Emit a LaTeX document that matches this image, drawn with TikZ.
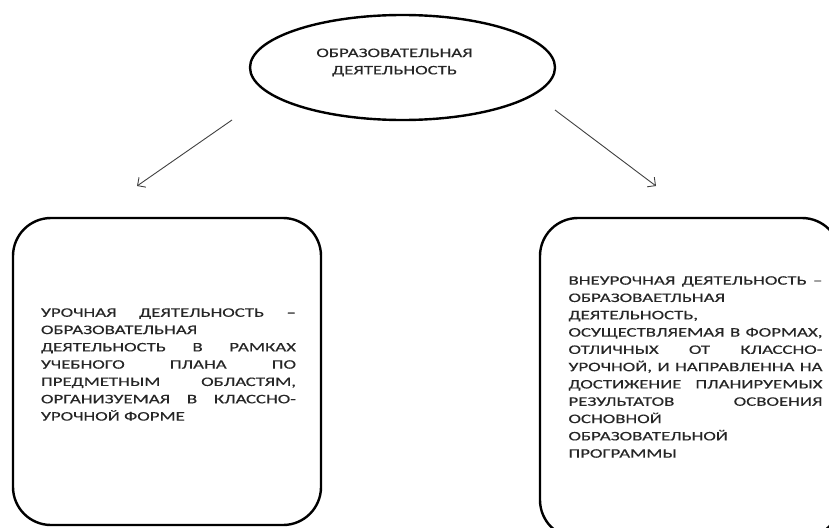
\documentclass[tikz,border=0pt]{standalone}
\usepackage{fontspec}
\setmainfont{Carlito}[FakeStretch=1.45, FakeBold=0.3]
\usetikzlibrary{arrows.meta, positioning, shapes.geometric, calc}

% justified line of a box text
\newcommand{\jline}[1]{\hbox to \hsize{\spaceskip=\fontdimen2\font plus 1fil minus \fontdimen4\font\relax #1}}

\begin{document}
\begin{tikzpicture}[x=1pt, y=-1pt,
    txt/.style={font=\fontsize{13}{17.3}\selectfont, text=black!85, inner sep=0pt},
    frame/.style={draw, line width=2.4pt, rounded corners=38pt, minimum width=308pt, minimum height=307pt, inner sep=0pt},
    link/.style={-{Straight Barb[length=6pt,width=12pt]}, draw=black!75, line width=0.9pt}]
    \useasboundingbox (0,0) rectangle (829,527);
    \clip (0,0) rectangle (829,527);

    % Top ellipse
    \node[ellipse, draw, line width=2.4pt, minimum width=305pt, minimum height=105pt] (top) at (402.5,67.5) {};
    \node[txt, align=center] (toptext) at ($(top.center)+(-8,-5)$) {ОБРАЗОВАТЕЛЬНАЯ\\ДЕЯТЕЛЬНОСТЬ};

    % Two rounded boxes
    \node[frame] (lbox) at (167,371.5) {};
    \node[frame, minimum width=300pt, minimum height=320pt] (rbox) at (690,378) {};

    % Box texts
    \node[txt, text width=255pt, align=left] (ltext) at (168.5,364.5) {%
        \jline{УРОЧНАЯ ДЕЯТЕЛЬНОСТЬ –}
        ОБРАЗОВАТЕЛЬНАЯ\\
        \jline{ДЕЯТЕЛЬНОСТЬ В РАМКАХ}
        \jline{УЧЕБНОГО ПЛАНА ПО}
        \jline{ПРЕДМЕТНЫМ ОБЛАСТЯМ,}
        \jline{ОРГАНИЗУЕМАЯ В КЛАССНО-}
        УРОЧНОЙ ФОРМЕ};
    \node[txt, text width=254pt, align=left] (rtext) at (695.5,367) {%
        \jline{ВНЕУРОЧНАЯ ДЕЯТЕЛЬНОСТЬ –}
        ОБРАЗОВАЕТЛЬНАЯ\\
        ДЕЯТЕЛЬНОСТЬ,\\
        \jline{ОСУЩЕСТВЛЯЕМАЯ В ФОРМАХ,}
        \jline{ОТЛИЧНЫХ ОТ КЛАССНО-}
        \jline{УРОЧНОЙ, И НАПРАВЛЕННА НА}
        \jline{ДОСТИЖЕНИЕ ПЛАНИРУЕМЫХ}
        \jline{РЕЗУЛЬТАТОВ ОСВОЕНИЯ}
        ОСНОВНОЙ\\
        ОБРАЗОВАТЕЛЬНОЙ\\
        ПРОГРАММЫ};

    % Arrows from the ellipse down to the boxes
    \coordinate (lfrom) at (232,120);
    \coordinate (lto) at (137,186);
    \coordinate (rfrom) at (555,110);
    \coordinate (rto) at (656,186);
    \draw[link] (lfrom) -- (lto);
    \draw[link] (rfrom) -- (rto);
\end{tikzpicture}
\end{document}
